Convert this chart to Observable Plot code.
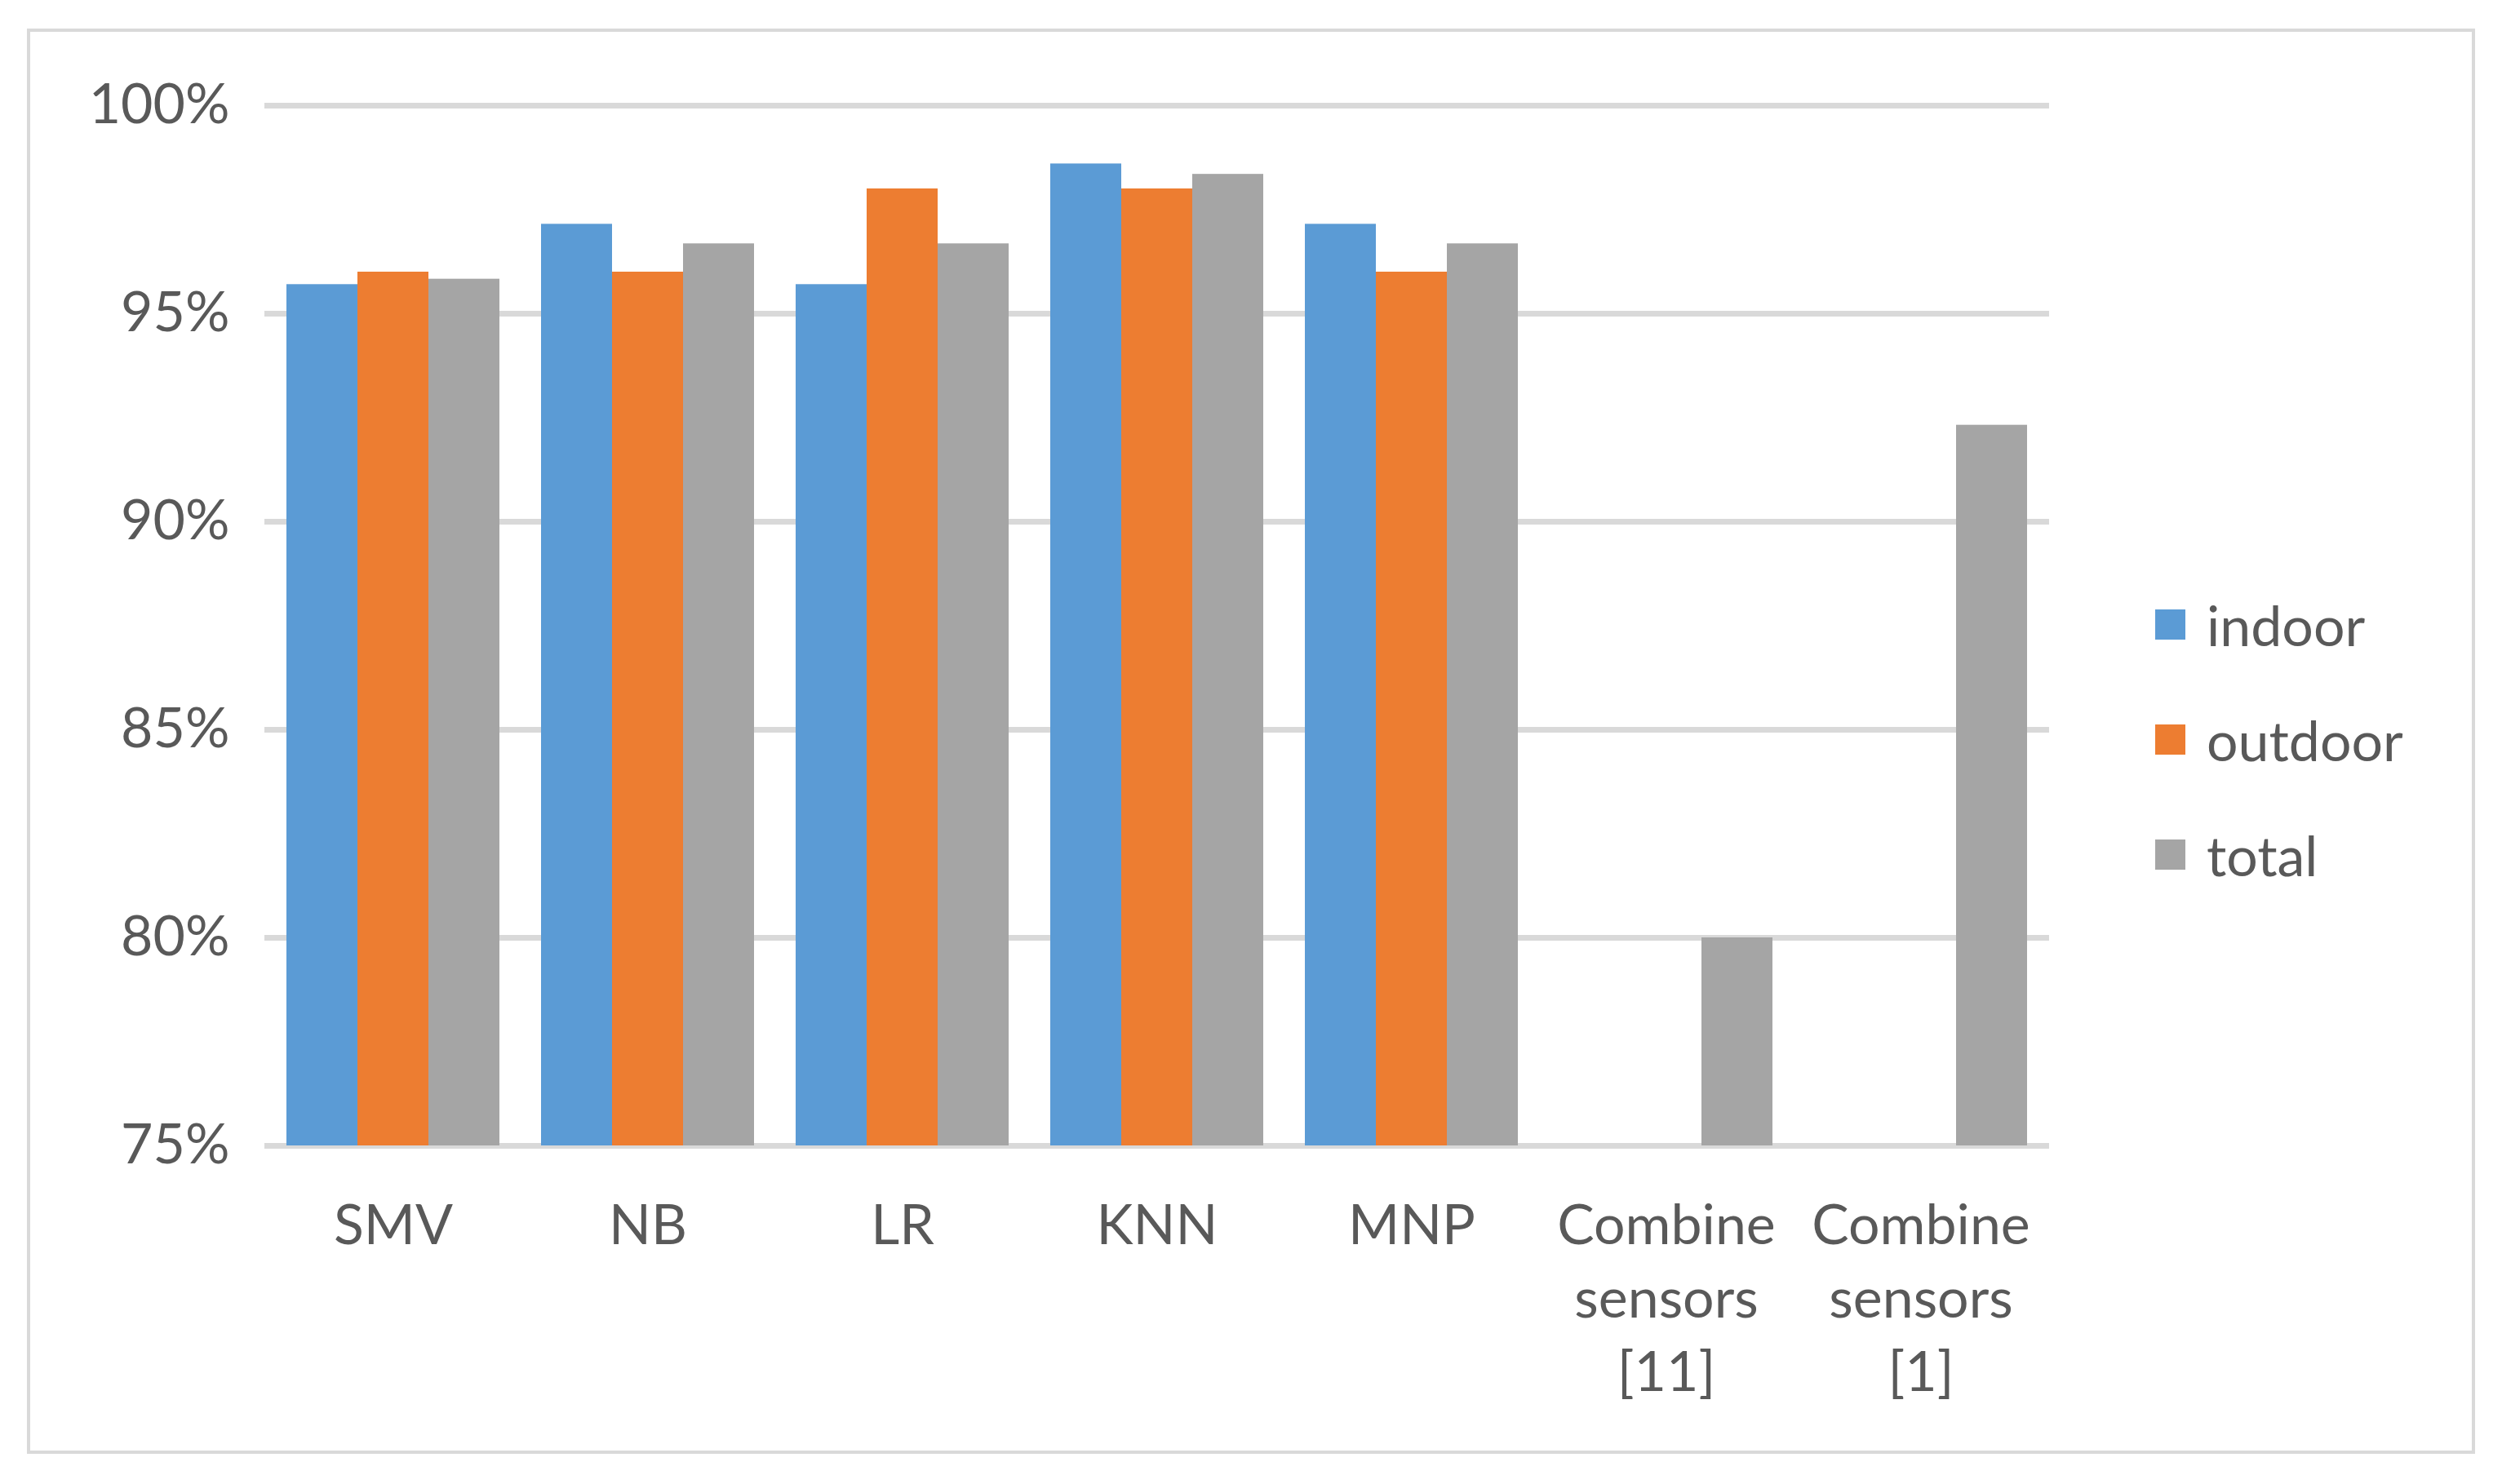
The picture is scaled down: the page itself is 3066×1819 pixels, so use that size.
<!DOCTYPE html>
<html>
<head>
<meta charset="utf-8">
<script src="https://cdn.jsdelivr.net/npm/d3@7"></script>
<script src="https://cdn.jsdelivr.net/npm/@observablehq/plot@0.6"></script>
<style>
  html, body { margin: 0; padding: 0; background: #fff; }
  body { width: 3066px; height: 1819px; position: relative; font-family: Lato, "Open Sans", sans-serif; color: #595959; }
  #frame { position: absolute; left: 33px; top: 35px; width: 2992px; height: 1739px; border: 4px solid #d9d9d9; }
  #chart { position: absolute; left: 0; top: 0; }
  #legend { position: absolute; left: 2641px; top: 718px; font-size: 68px; }
  .item { display: flex; align-items: center; height: 94px; margin-bottom: 47px; }
  .sw { width: 37px; height: 37px; margin-right: 26px; }
</style>
</head>
<body>
<div id="frame"></div>
<div id="chart"></div>
<div id="legend"></div>
<script>
const categories = ["SMV", "NB", "LR", "KNN", "MNP", "Combine sensors [11]", "Combine sensors [1]"];
const series = ["indoor", "outdoor", "total"];
const indoor = [95.7, 97.15, 95.7, 98.6, 97.15, null, null];
const outdoor = [96.0, 96.0, 98.0, 98.0, 96.0, null, null];
const total = [95.83, 96.68, 96.68, 98.35, 96.68, 80.0, 92.32];
const colors = ["#5b9bd5", "#ed7d31", "#a5a5a5"];
const yTicks = [75, 80, 85, 90, 95, 100];

const seriesValues = {indoor, outdoor, total};
const rows = categories.flatMap((c, i) =>
  series.map(s => ({category: c, series: s, value: seriesValues[s][i]}))
).filter(d => d.value != null);

const plot = Plot.plot({
  width: 3066,
  height: 1819,
  marginLeft: 323,
  marginRight: 554,
  marginTop: 129,
  marginBottom: 415,
  style: {fontFamily: "Lato, 'Open Sans', sans-serif", fontSize: "68px", color: "#595959", background: "transparent"},
  fx: {domain: categories, paddingInner: 0.156, paddingOuter: 0.078, label: null, axis: null},
  x: {domain: series, padding: 0, axis: null},
  y: {domain: [yTicks[0], yTicks[yTicks.length - 1]], label: null, axis: null},
  color: {domain: series, range: colors},
  marks: [
    Plot.ruleY(yTicks, {stroke: "#d9d9d9", strokeWidth: 7, insetLeft: -26, insetRight: -26}),
    Plot.barY(rows, {fx: "category", x: "series", y1: () => yTicks[0], y2: "value", fill: "series"}),
    Plot.axisY({ticks: yTicks, tickFormat: d => d + "%", tickSize: 0, tickPadding: 69, label: null, fontSize: 68}),
    Plot.axisFx({anchor: "bottom", tickSize: 0, tickPadding: 57, label: null, fontSize: 68, lineHeight: 1.32,
      tickFormat: d => d.replace(/ /g, "\n")})
  ]
});
document.getElementById("chart").appendChild(plot);

const legend = document.getElementById("legend");
series.forEach((s, i) => {
  const item = document.createElement("div");
  item.className = "item";
  const sw = document.createElement("div");
  sw.className = "sw";
  sw.style.background = colors[i];
  const label = document.createElement("span");
  label.textContent = s;
  item.appendChild(sw);
  item.appendChild(label);
  legend.appendChild(item);
});
</script>
</body>
</html>
